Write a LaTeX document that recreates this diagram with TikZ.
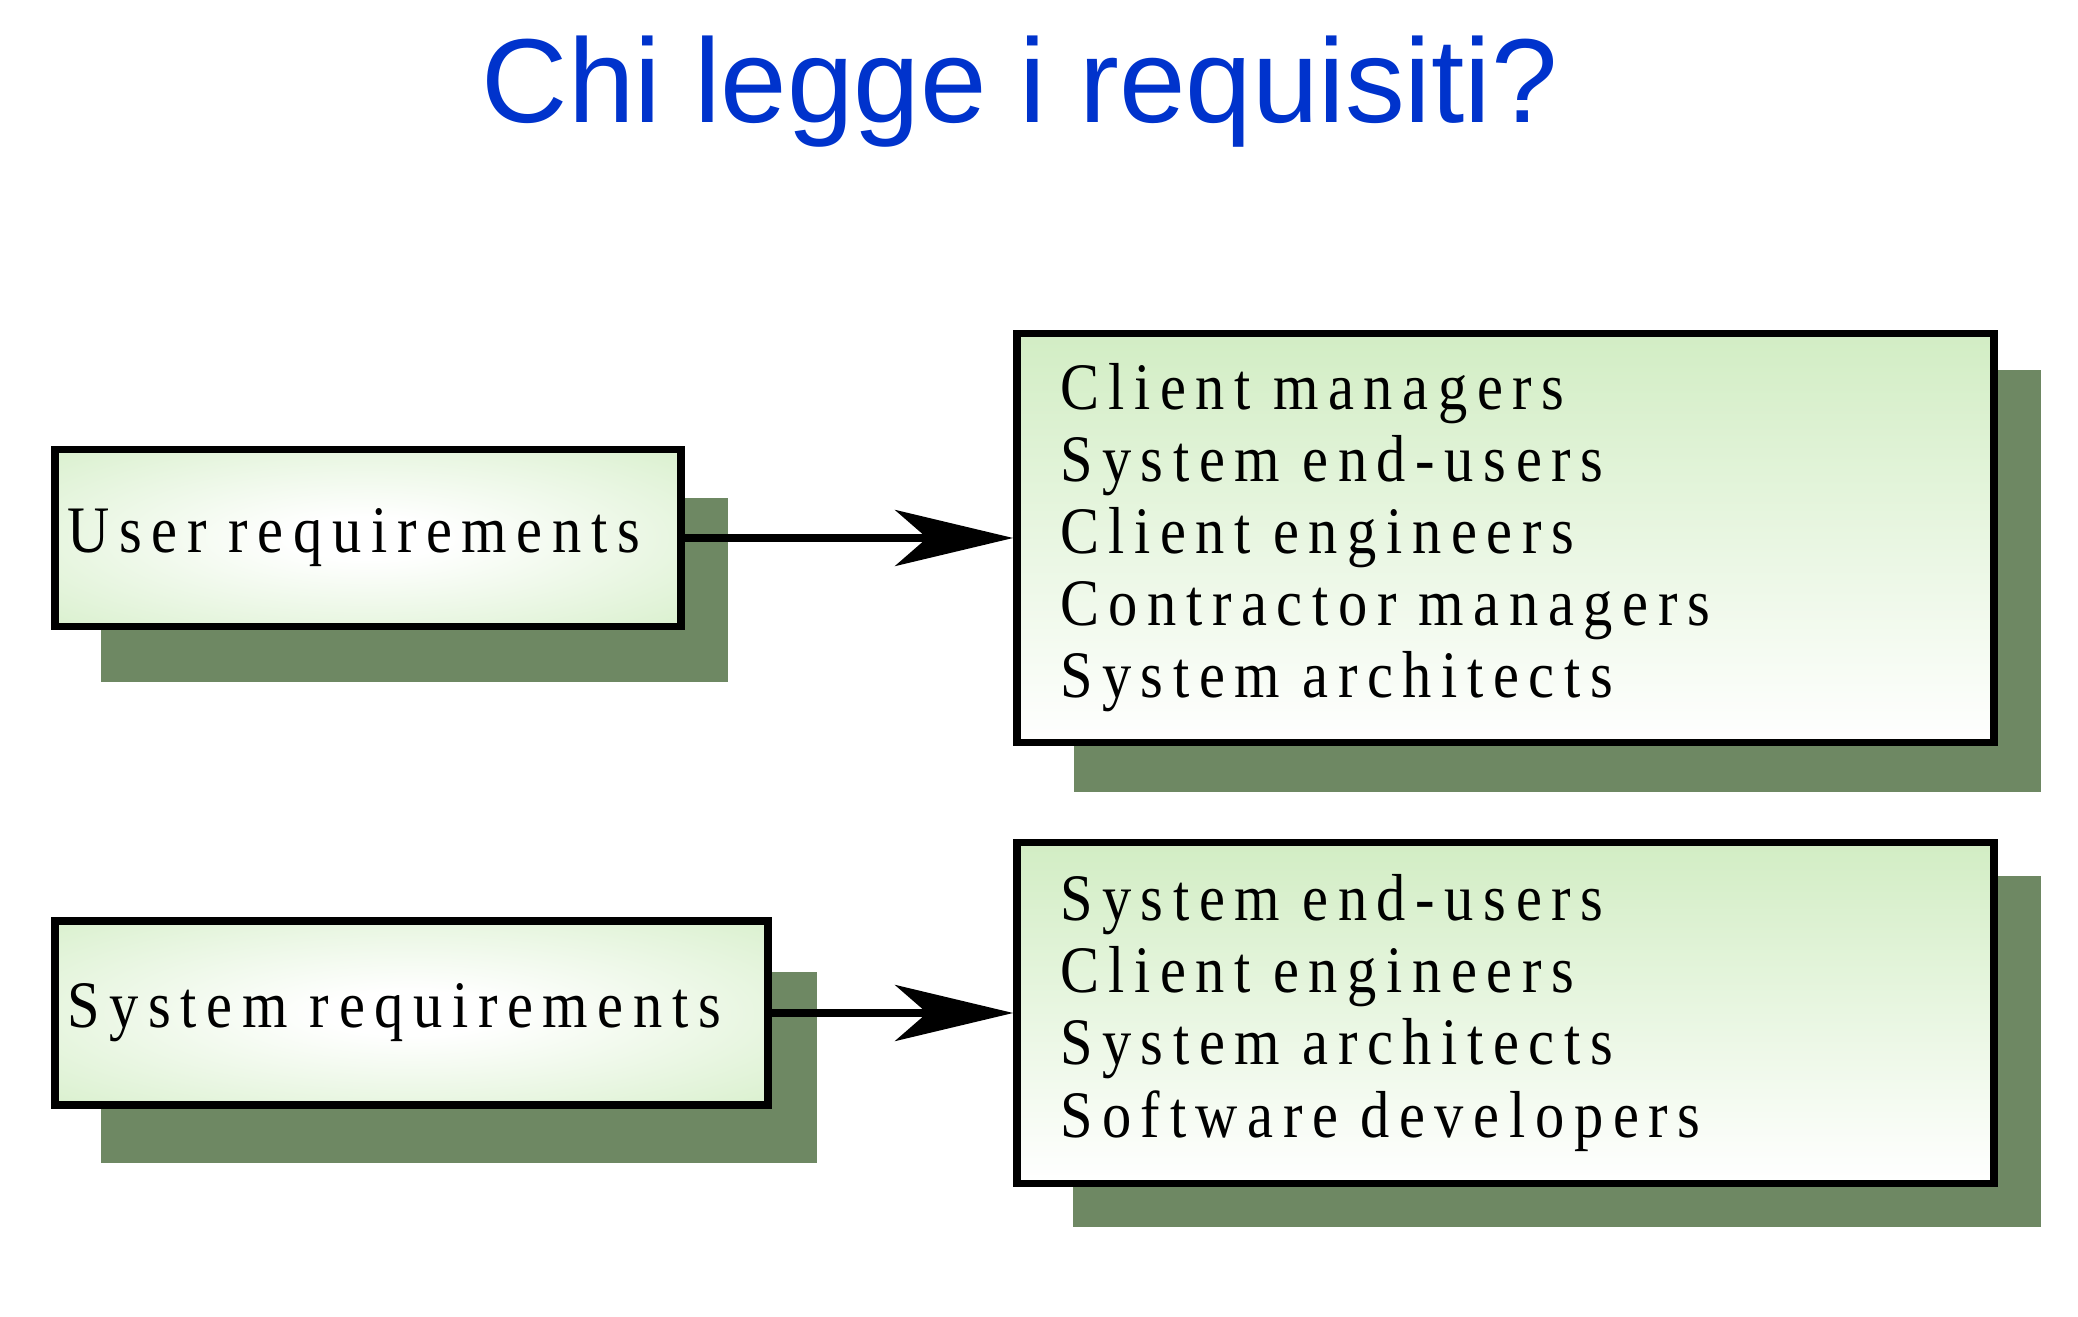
\documentclass[tikz,border=0pt]{standalone}
\usepackage{fontspec}
\setmainfont{Liberation Serif}[FakeStretch=0.88, LetterSpace=14.5, WordSpace=2.6]
\newfontfamily\titlefont{Liberation Sans}
\usetikzlibrary{arrows.meta, calc, backgrounds}
\definecolor{titleblue}{HTML}{0033CC}
\definecolor{boxgreen}{HTML}{D2EDC4}
\definecolor{shadowgreen}{HTML}{6E8863}
\pgfdeclareradialshading{reqglow}{\pgfpoint{0bp}{0bp}}{color(0bp)=(white); color(6bp)=(white); color(42bp)=(boxgreen); color(72bp)=(boxgreen)}

\begin{document}
\begin{tikzpicture}[
    req/.style={draw, line width=2.2pt, shade, shading=reqglow, align=left, inner xsep=0.125cm, font=\fontsize{18.9}{20.5}\selectfont},
    readers/.style={draw, line width=2.2pt, top color=boxgreen, bottom color=white, align=left, inner xsep=0.43cm, text width=8.91cm, font=\fontsize{18.9}{20.5}\selectfont},
    link/.style={-{Stealth[length=1.18cm, width=0.56cm, inset=0.32cm]}, line width=2.2pt},
]
\useasboundingbox (0,0) rectangle (20.78,-13.17);

% Title
\node[font=\titlefont\fontsize{34}{40}\selectfont, text=titleblue, anchor=base] (title) at (10.2,-1.23) {Chi legge i requisiti?};

% Requirements documents
\node[req, text width=6.01cm, minimum height=1.77cm] (user) at (3.68,-5.38) {User requirements};
\node[req, text width=6.88cm, minimum height=1.84cm] (system) at (4.115,-10.13) {System requirements};

% Readers
\node[readers, minimum height=4.09cm] (userreaders) at (15.055,-5.38) {Client managers\\System end-users\\Client engineers\\Contractor managers\\System architects};
\node[readers, minimum height=3.41cm] (systemreaders) at (15.055,-10.13) {System end-users\\Client engineers\\System architects\\Software developers};

% Shadows
\begin{scope}[on background layer]
\foreach \n/\dl/\db/\dr/\dt in {user/0.50/0.52/0.43/0.52, system/0.50/0.54/0.45/0.55, userreaders/0.61/0.46/0.43/0.40, systemreaders/0.60/0.40/0.43/0.37}
  \fill[shadowgreen] ($(\n.south west)+(\dl,-\db)$) rectangle ($(\n.north east)+(\dr,-\dt)$);
\end{scope}

% Who reads what
\draw[link] (user.east) -- (userreaders.west);
\draw[link] (system.east) -- (systemreaders.west);

\end{tikzpicture}
\end{document}
